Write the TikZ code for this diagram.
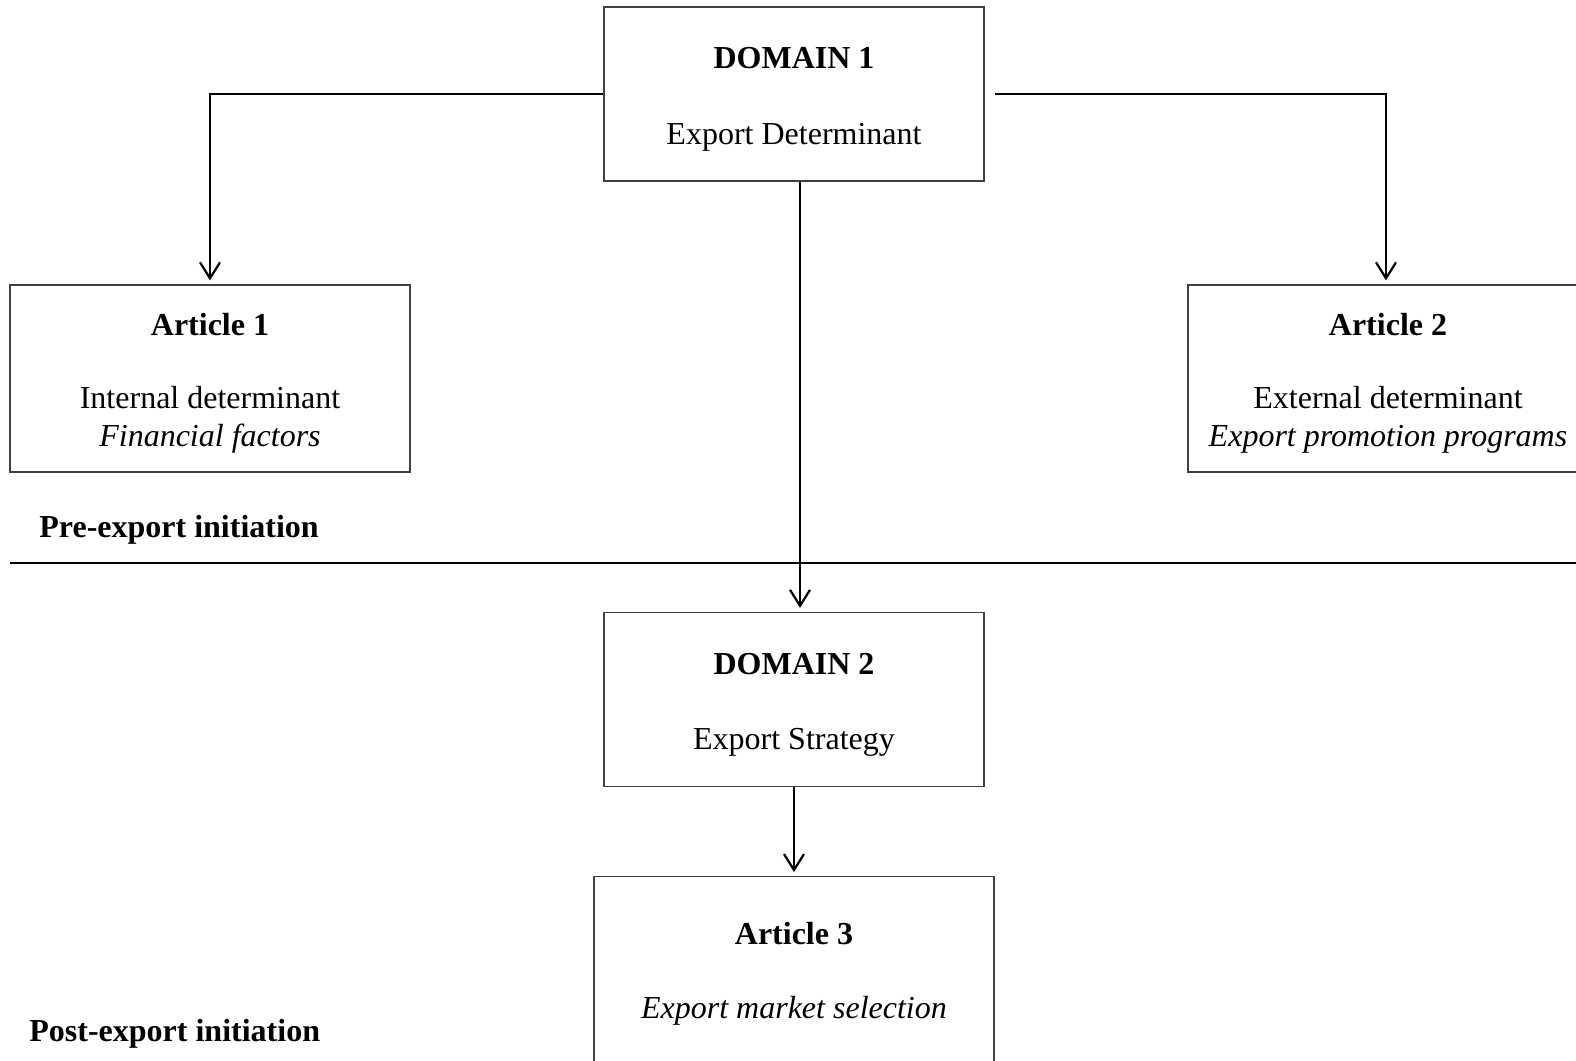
\documentclass[tikz,border=0pt]{standalone}
\usepackage{fontspec}
\setmainfont{Liberation Serif}
\usetikzlibrary{arrows.meta,positioning}
\newcommand{\headline}[2][15.5pt]{\rule{0pt}{#1}\textbf{#2}}

\begin{document}
\begin{tikzpicture}[
		x=0.5pt, y=-0.5pt,
		font=\fontsize{16}{19}\selectfont,
		box/.style={draw=black!75, line width=0.6pt, align=center, inner sep=0pt},
		domainbox/.style={box, minimum width=190pt, minimum height=87pt},
		articlebox/.style={box, minimum width=200pt, minimum height=93.5pt},
		link/.style={line width=1.1pt, -{Straight Barb[length=8pt, width=10pt, line width=1.1pt]}, shorten >=2pt},
		phase/.style={anchor=west, inner sep=0pt, font=\fontsize{16}{19}\selectfont\bfseries},
	]
		\useasboundingbox (0,0) rectangle (1576,1061);
		\node [domainbox] (domain a) at (794,94) {\headline{DOMAIN 1}\\[19pt]Export Determinant};
		\node [articlebox] (article a) at (210,378.5) {\headline{Article 1}\\[17.5pt]Internal determinant\\\textit{Financial factors}};
		\node [articlebox] (article b) at (1388,378.5) {\headline{Article 2}\\[17.5pt]External determinant\\\textit{Export promotion programs}};
		\node [domainbox] (domain b) at (794,699.5) {\headline{DOMAIN 2}\\[18.5pt]Export Strategy};
		\node [articlebox, minimum height=96pt, below=44.5pt of domain b] (article c) {\headline[12pt]{Article 3}\\[18pt]\textit{Export market selection}};
		
		\node [phase] (pre) at (39,530) {Pre-export initiation};
		\node [phase] (post) at (29,1034) {Post-export initiation};
		\coordinate (split a) at (10,563);
		\coordinate (split b) at (1576,563);
		\draw[line width=1pt] (split a) -- (split b);
		
		\draw[link] (domain a.west) -| (article a.north);
		\draw[link] ([xshift=5pt]domain a.east) -| ([xshift=-1pt]article b.north);
		\draw[link] ([xshift=3pt]domain a.south) -- ([xshift=3pt]domain b.north);
		\draw[link] (domain b) -- (article c);
	\end{tikzpicture}
\end{document}
